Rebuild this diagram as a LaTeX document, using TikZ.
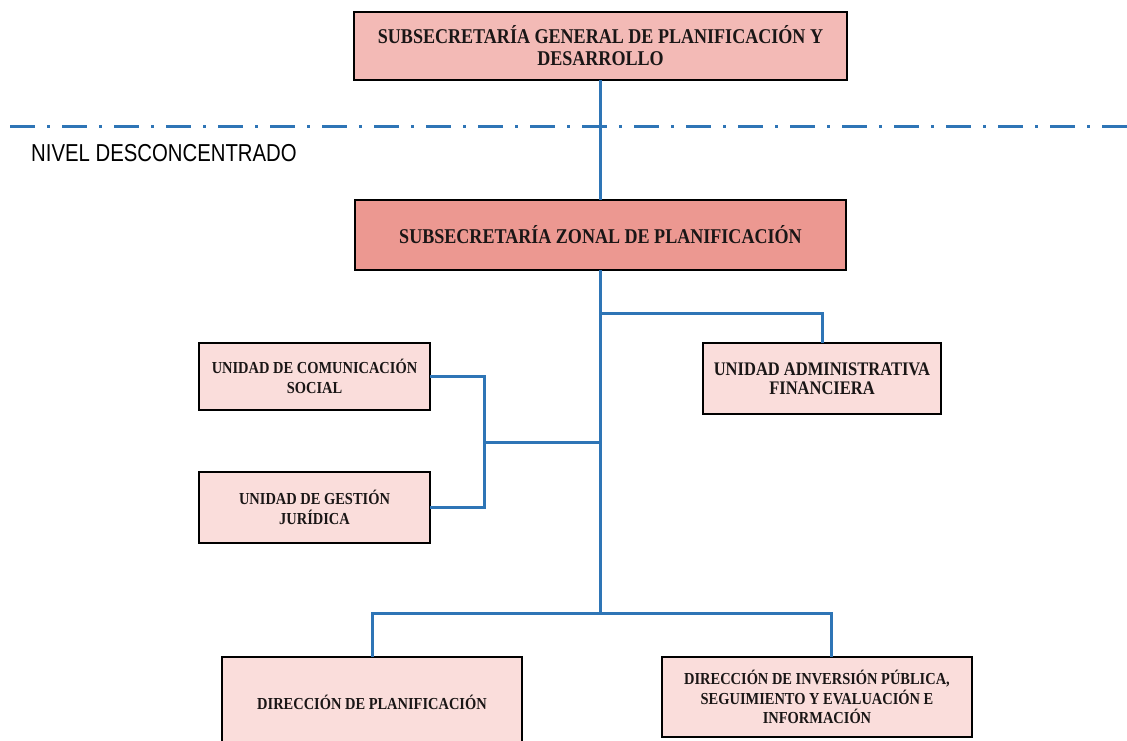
\documentclass[tikz,border=0pt]{standalone}
\usepackage{fontspec}
\newfontfamily\boxfont[FakeStretch=0.86]{Liberation Serif}
\newfontfamily\levelfont[FakeStretch=0.83]{Liberation Sans}
\definecolor{linkblue}{RGB}{46,117,182}
\definecolor{fillmain}{RGB}{243,186,182}
\definecolor{fillzone}{RGB}{236,152,145}
\definecolor{fillunit}{RGB}{250,221,219}
\definecolor{inkdark}{RGB}{26,22,22}
\tikzset{
  orgbox/.style={draw=black, line width=2.7pt, rectangle, inner sep=0pt,
                 align=center, text=inkdark, font=\boxfont\bfseries},
  bigtext/.style={font=\boxfont\bfseries\fontsize{21}{22}\selectfont},
  smalltext/.style={font=\boxfont\bfseries\fontsize{16.8}{19.5}\selectfont},
  link/.style={draw=linkblue, line width=3pt, line cap=rect},
  levelline/.style={draw=linkblue, line width=3pt,
                    dash pattern=on 25pt off 12pt on 2.5pt off 12.5pt}
}
\begin{document}
\begin{tikzpicture}[x=1pt,y=-1pt]
\useasboundingbox (0,0) rectangle (1127,740);

% level separator
\coordinate (sepL) at (10,126);
\coordinate (sepR) at (1127,126);
\draw[levelline] (sepL) -- (sepR);
\node[anchor=west, inner sep=0pt, font=\levelfont\fontsize{24.5}{24.5}\selectfont]
  (nivel) at (31,153) {NIVEL DESCONCENTRADO};

% boxes
\node[orgbox, bigtext, fill=fillmain, minimum width=493pt, minimum height=68pt]
  (top) at (600.5,46) {SUBSECRETARÍA GENERAL DE PLANIFICACIÓN Y\\DESARROLLO};
\node[orgbox, bigtext, fill=fillzone, minimum width=491pt, minimum height=70pt]
  (zonal) at (600.5,235) {SUBSECRETARÍA ZONAL DE PLANIFICACIÓN};
\node[orgbox, smalltext, fill=fillunit, minimum width=231pt, minimum height=67pt]
  (ucs) at (314.5,376.5) {UNIDAD DE COMUNICACIÓN\\SOCIAL};
\node[orgbox, smalltext, fill=fillunit, minimum width=231pt, minimum height=71pt]
  (ugj) at (314.5,507.5) {UNIDAD DE GESTIÓN\\JURÍDICA};
\node[orgbox, fill=fillunit, font=\boxfont\bfseries\fontsize{19.2}{19.5}\selectfont,
      minimum width=238pt, minimum height=71pt]
  (uaf) at (822,378.5) {UNIDAD ADMINISTRATIVA\\FINANCIERA};
\node[orgbox, smalltext, fill=fillunit, minimum width=300pt, minimum height=90pt]
  (dp) at (372,702) {DIRECCIÓN DE PLANIFICACIÓN};
\node[orgbox, smalltext, fill=fillunit, minimum width=310pt, minimum height=80pt]
  (dip) at (817,697) {DIRECCIÓN DE INVERSIÓN PÚBLICA,\\SEGUIMIENTO Y EVALUACIÓN E\\INFORMACIÓN};

% junction points on the trunk
\coordinate (jUAF) at (600.5,313);
\coordinate (jUnits) at (600.5,442);
\coordinate (jDir) at (600.5,613);
\coordinate (bracket) at (484,442);

% connectors
\draw[link] (top.south) -- (zonal.north);
\draw[link] (zonal.south) -- (jDir);
\draw[link] (jUAF) -| (uaf.north);
\draw[link] (ucs.east) -| (bracket) |- (ugj.east);
\draw[link] (bracket) -- (jUnits);
\draw[link] (dp.north) |- (jDir) -| ([xshift=14pt]dip.north);
\end{tikzpicture}
\end{document}
